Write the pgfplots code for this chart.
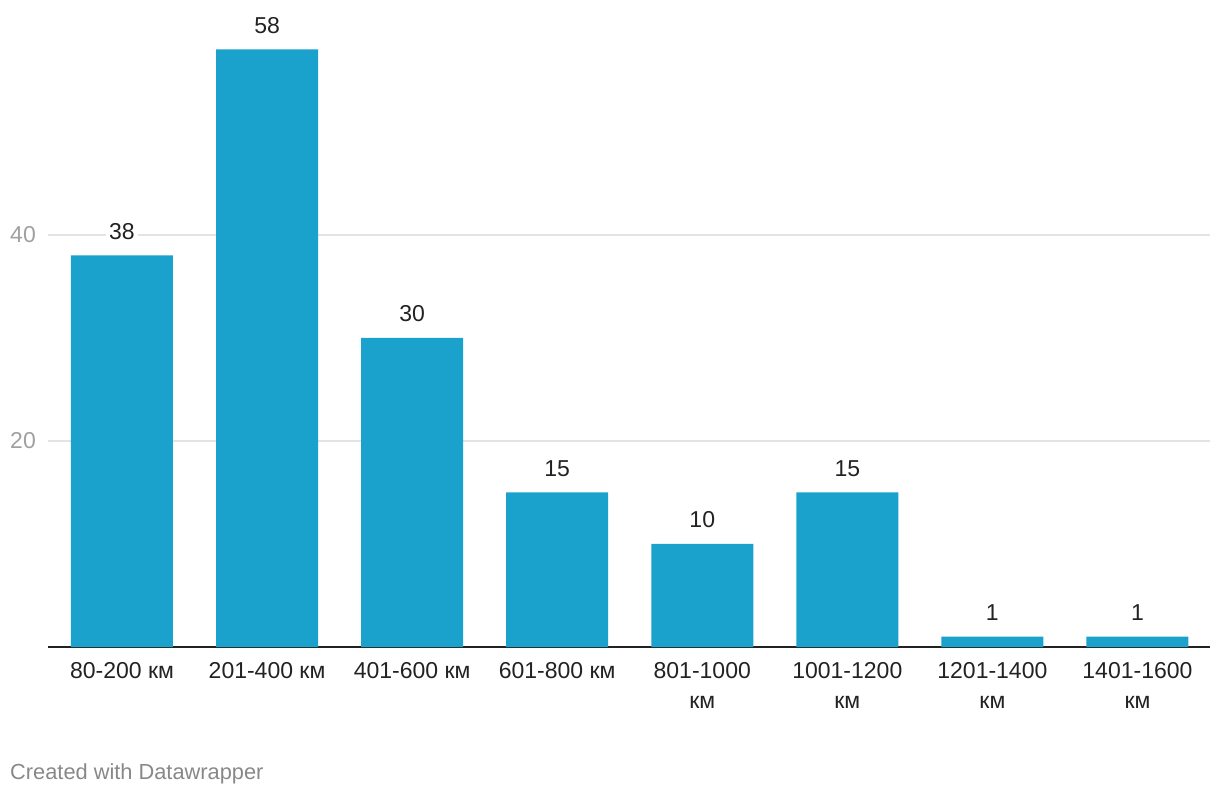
\documentclass[border=0pt]{standalone}
\usepackage{fontspec}
\setmainfont{Liberation Sans}
\usepackage{pgfplots}
\pgfplotsset{compat=1.18}

\definecolor{barblue}{RGB}{26,161,204}
\definecolor{gridgray}{RGB}{227,227,227}
\definecolor{tickgray}{RGB}{160,160,160}
\definecolor{textdark}{RGB}{34,34,34}
\definecolor{footgray}{RGB}{136,136,136}

\begin{document}
\begin{tikzpicture}
  \useasboundingbox (0,0) rectangle (1220pt,796pt);
  \begin{axis}[
    at={(48pt,149pt)}, anchor=south west,
    scale only axis,
    width=1162pt, height=647pt,
    xmin=-0.51, xmax=7.5,
    ymin=0, ymax=62.8,
    ybar, bar width=102pt, bar shift=0pt,
    clip=false,
    axis x line*=bottom,
    axis y line*=left,
    x axis line style={-, draw=textdark, line width=2pt},
    y axis line style={draw=none},
    major tick length=0pt,
    xtick=data,
    xticklabels={{80-200 км},{201-400 км},{401-600 км},{601-800 км},
      {801-1000\\км},{1001-1200\\км},{1201-1400\\км},{1401-1600\\км}},
    xticklabel style={align=center, anchor=north, inner sep=0pt, yshift=-15pt,
      font=\fontsize{23}{30}\selectfont, text=textdark},
    ytick={20,40},
    yticklabel style={anchor=east, inner sep=0pt, xshift=-12pt,
      font=\fontsize{23}{28}\selectfont, text=tickgray},
    /pgf/number format/assume math mode=true,
    ymajorgrids,
    grid style={draw=gridgray, line width=1.5pt},
    nodes near coords,
    every node near coord/.append style={anchor=south, fill=white,
      inner xsep=3pt, inner ysep=0pt, yshift=16pt,
      font=\fontsize{23}{28}\selectfont, text=textdark},
  ]
    \addplot[fill=barblue, draw=none] coordinates {
      (0,38) (1,58) (2,30) (3,15) (4,10) (5,15) (6,1) (7,1)
    };
  \end{axis}
  \node[anchor=base west, inner sep=0pt, text=footgray,
    font=\fontsize{21.8}{26}\selectfont] at (10pt,17pt) {Created with Datawrapper};
\end{tikzpicture}
\end{document}
